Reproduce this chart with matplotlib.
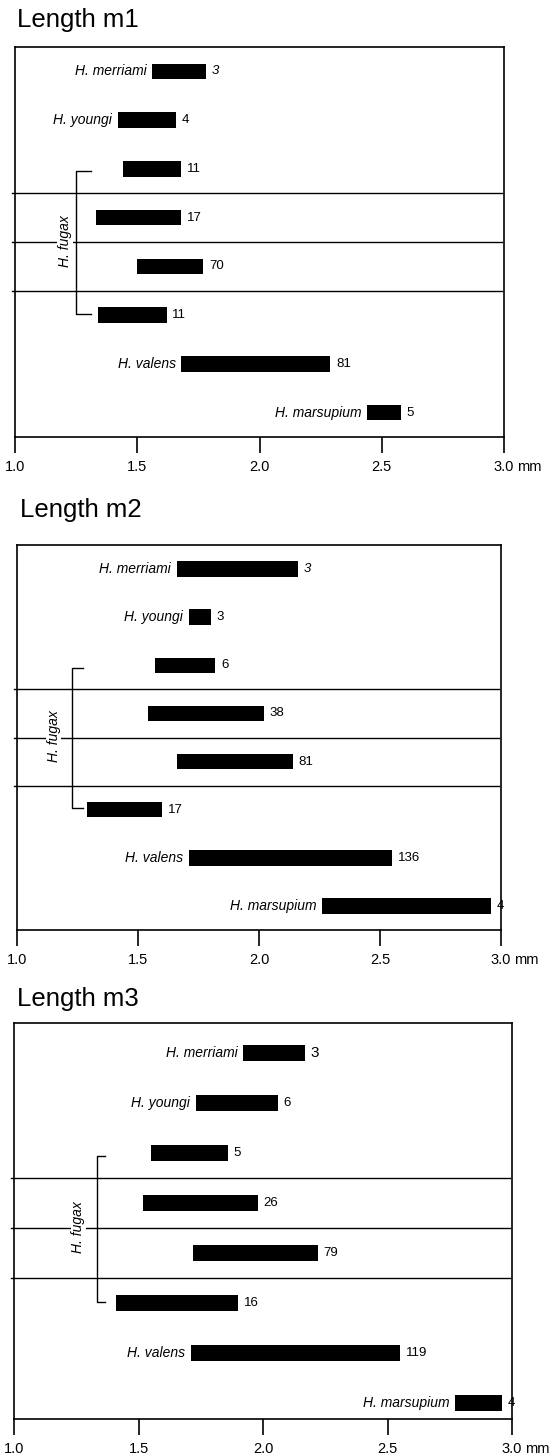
"""
Length ranges of m1, m2, m3 for Heteromys species (three stacked panels).
Output: out.png (559x1455)
"""

import numpy as np
import matplotlib
matplotlib.use("Agg")
import matplotlib.pyplot as plt

plt.rcParams['font.family'] = ['Liberation Sans', 'DejaVu Sans']

# row labels (top to bottom); the four middle rows are H. fugax
species = ['H. merriami', 'H. youngi', '', '', '', '', 'H. valens', 'H. marsupium']

# m1
m1_lo = [1.56, 1.42, 1.44, 1.33, 1.50, 1.34, 1.68, 2.44]
m1_hi = [1.78, 1.66, 1.68, 1.68, 1.77, 1.62, 2.29, 2.58]
m1_n = [3, 4, 11, 17, 70, 11, 81, 5]

# m2
m2_lo = [1.66, 1.71, 1.57, 1.54, 1.66, 1.29, 1.71, 2.26]
m2_hi = [2.16, 1.80, 1.82, 2.02, 2.14, 1.60, 2.55, 2.96]
m2_n = [3, 3, 6, 38, 81, 17, 136, 4]

# m3
m3_lo = [1.92, 1.73, 1.55, 1.52, 1.72, 1.41, 1.71, 2.77]
m3_hi = [2.17, 2.06, 1.86, 1.98, 2.22, 1.90, 2.55, 2.96]
m3_n = [3, 6, 5, 26, 79, 16, 119, 4]

x_ticks = [1.0, 1.5, 2.0, 2.5, 3.0]
x_ticklabels = ['1.0', '1.5', '2.0', '2.5', '3.0']

W, H = 559, 1455
TICK_LEN, TICK_PAD = 11.5, 5


def px_rect(x0, x1, y0, y1):
    """pixel box -> figure fraction [left, bottom, width, height]"""
    return [x0 / W, 1 - y1 / H, (x1 - x0) / W, (y1 - y0) / H]


def draw_panel(fig, rect, title, title_xy, lo, hi, n, ylim, bracket_x, label_x,
               italic_first=True):
    ax = fig.add_axes(rect)
    lo = np.array(lo)
    hi = np.array(hi)
    y = np.arange(len(lo))

    ax.barh(y, hi - lo, left=lo, height=0.32, color='black')

    for i in range(len(lo)):
        if species[i]:
            ax.annotate(species[i], xy=(lo[i], y[i]), xytext=(-4, 0),
                        textcoords='offset points', ha='right', va='center',
                        fontsize=10, style='italic')
        st = 'italic' if (i == 0 and italic_first) else 'normal'
        fs = 11 if (i == 0 and not italic_first) else 9.5
        ax.annotate(str(n[i]), xy=(hi[i], y[i]), xytext=(4, 0),
                    textcoords='offset points', ha='left', va='center',
                    fontsize=fs, style=st)

    # separators between the fugax rows
    for yy in [2.5, 3.5, 4.5]:
        ax.axhline(yy, xmin=-0.006, xmax=0.995, color='black', lw=1.0,
                   clip_on=False)

    # H. fugax bracket
    bx0, bx1 = bracket_x
    ax.plot([bx1, bx0, bx0, bx1], [2.05, 2.05, 4.97, 4.97], color='black',
            lw=1.0)
    ax.text(label_x, 3.48, 'H. fugax', rotation=90, ha='center', va='center',
            fontsize=10, style='italic',
            bbox=dict(facecolor='white', edgecolor='none', pad=0.5))

    ax.set_xlim(1.0, 3.0)
    ax.set_ylim(*ylim)
    ax.set_yticks([])
    ax.set_xticks(x_ticks)
    ax.set_xticklabels(x_ticklabels, fontsize=10.5)
    ax.tick_params(axis='x', direction='out', length=TICK_LEN, width=1.2,
                   pad=TICK_PAD)
    for s in ax.spines.values():
        s.set_linewidth(1.2)
    # unit after the last tick label
    ax.annotate('mm', xy=(3.0, 0), xycoords=('data', 'axes fraction'),
                xytext=(9.5, -(TICK_LEN + TICK_PAD)), textcoords='offset points',
                ha='left', va='top', fontsize=10.5)

    fig.text(title_xy[0] / W, 1 - title_xy[1] / H, title, fontsize=18.5,
             ha='left', va='baseline')
    return ax


fig = plt.figure(figsize=(W / 100, H / 100), dpi=100)

draw_panel(fig, px_rect(15, 504, 47, 437), 'Length m1', (17, 27),
           m1_lo, m1_hi, m1_n, (7.5, -0.5), (1.251, 1.311), 1.205)
draw_panel(fig, px_rect(17, 501, 545, 930), 'Length m2', (20, 517),
           m2_lo, m2_hi, m2_n, (7.5, -0.5), (1.229, 1.274), 1.152)
draw_panel(fig, px_rect(14, 512, 1023, 1419), 'Length m3', (17, 1006),
           m3_lo, m3_hi, m3_n, (7.32, -0.6), (1.334, 1.366), 1.258,
           italic_first=False)

fig.savefig('out.png', dpi=100)
